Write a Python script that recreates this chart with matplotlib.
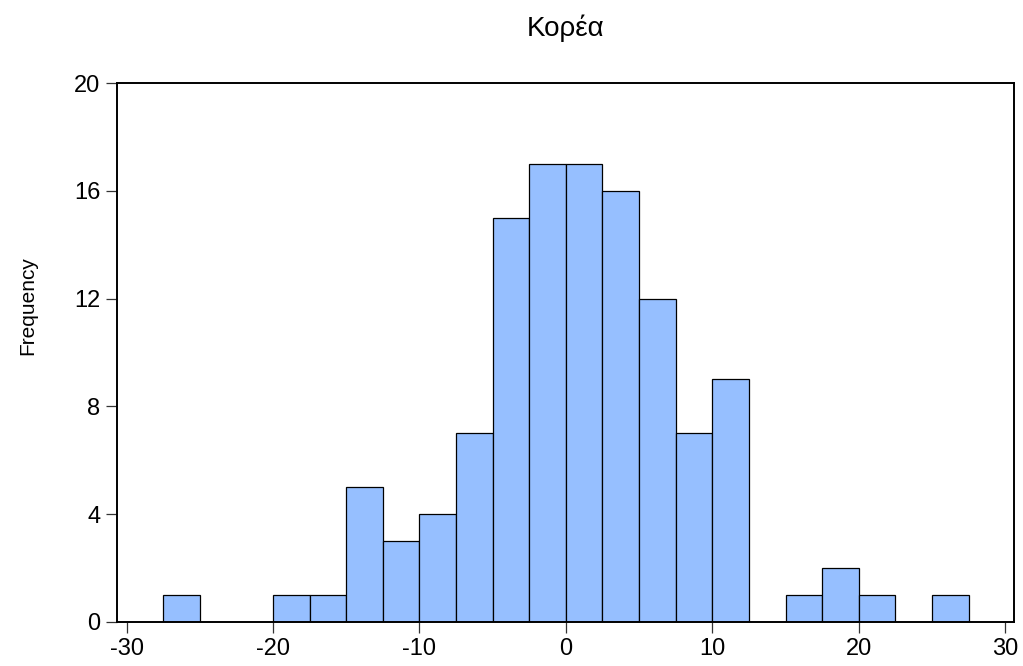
import matplotlib

matplotlib.use("Agg")
import matplotlib.pyplot as plt
import numpy as np

plt.rcParams["font.family"] = ["Liberation Sans", "DejaVu Sans"]
plt.rcParams["axes.unicode_minus"] = False

BAR = "#96bfff"

# histogram: bin edges (width 2.5) and counts
bin_edges = np.arange(-27.5, 27.5 + 0.1, 2.5)
counts = [1, 0, 0, 1, 1, 5, 3, 4, 7, 15, 17, 17, 16, 12, 7, 9, 0, 1, 2, 1, 0, 1]
x_ticks = [-30, -20, -10, 0, 10, 20, 30]
y_ticks = [0, 4, 8, 12, 16, 20]
title = "Κορέα"
ylabel = "Frequency"

fig = plt.figure(figsize=(10.23, 6.66), dpi=100)
fig.patch.set_facecolor("white")
ax = fig.add_axes([0.1144, 0.0665, 0.8768, 0.8084])

widths = np.diff(bin_edges)
ax.bar(bin_edges[:-1], counts, width=widths, align="edge",
       color=BAR, edgecolor="black", linewidth=0.9)

ax.set_xlim(-30.65, 30.6)
ax.set_ylim(0, 20)
ax.set_xticks(x_ticks)
ax.set_yticks(y_ticks)
ax.tick_params(direction="out", length=8, width=0.9, labelsize=17, color="#333333", pad=4)
for s in ax.spines.values():
    s.set_linewidth(1.4)
    s.set_color("black")

# axis label and title placed as in the source (label sits above centre)
fig.text(28 / 1023, 1 - 306 / 666, ylabel, rotation=90, ha="center", va="center", fontsize=15)
fig.text(566 / 1023, 1 - 28 / 666, title, ha="center", va="center", fontsize=20)

fig.savefig("out.png", dpi=100, facecolor="white")
